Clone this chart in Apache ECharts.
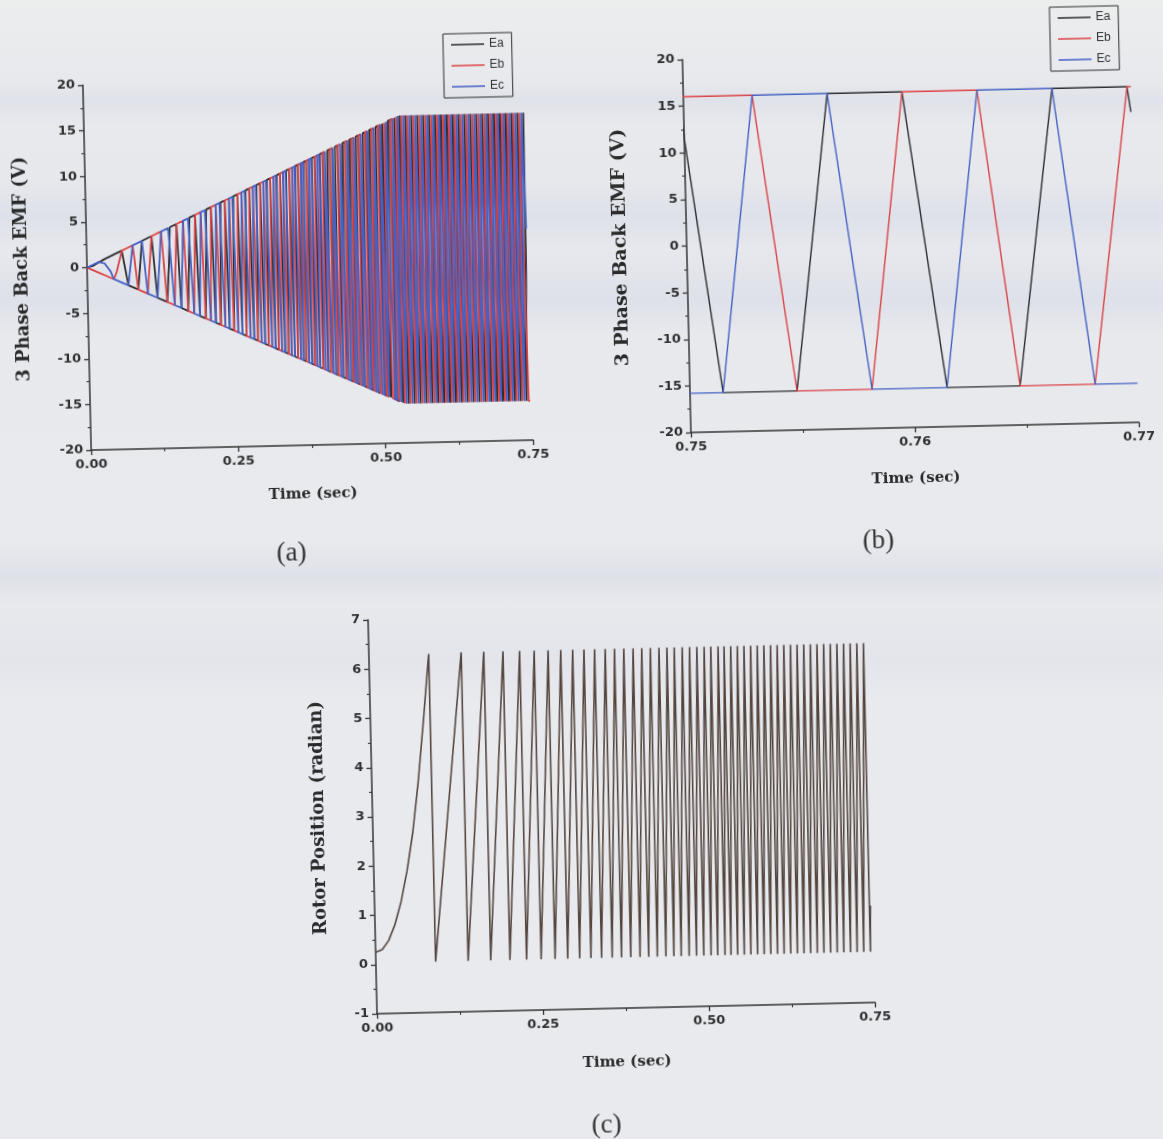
<!DOCTYPE html>
<html>
<head>
<meta charset="utf-8">
<script src="https://cdn.jsdelivr.net/npm/echarts@6/dist/echarts.min.js"></script>
<style>
  html, body { margin: 0; padding: 0; width: 1163px; height: 1139px; overflow: hidden; }
  body {
    background: linear-gradient(to bottom,
      #eceded 0px, #e8e9ed 80px, #dfe2e9 100px, #e8e9ed 125px,
      #e7e8ec 180px, #dde1e9 215px, #e7e8ed 250px, #dee1e9 300px, #e8e9ed 335px,
      #e9eaee 540px, #dee1e8 575px, #e8e9ed 605px, #e3e5eb 660px, #e9eaee 700px,
      #e9eaee 1139px);
  }
  #chart { width: 1163px; height: 1139px; transform: rotate(-1.3deg); transform-origin: 581.5px 569.5px; }
</style>
</head>
<body>
<div id="chart"></div>
<script>
// ---- Rotor electrical position (rad) ----
// start-up curve up to the first wrap
const startupTime = [0, 0.010, 0.020, 0.030, 0.040, 0.050, 0.060, 0.070, 0.080, 0.090];
const startupPos  = [0.25, 0.30, 0.48, 0.80, 1.26, 1.88, 2.66, 3.70, 4.95, 6.28];
// instants where the position wraps from 2π back to 0 (s)
const wrapTimes = [
  0.090, 0.139, 0.173, 0.202, 0.227, 0.249, 0.270, 0.289, 0.307, 0.324,
  0.340, 0.356, 0.370, 0.384, 0.398, 0.411, 0.424, 0.437, 0.449, 0.460,
  0.472, 0.483, 0.494, 0.505, 0.515, 0.526, 0.535, 0.545, 0.555, 0.565,
  0.575, 0.585, 0.595, 0.605, 0.615, 0.625, 0.635, 0.645, 0.655, 0.665,
  0.675, 0.685, 0.695, 0.705, 0.715, 0.725, 0.735, 0.745
];
const posLow = 0.03, posHigh = 6.30;
const simEnd = 0.7465;

// ---- Back-EMF amplitude envelope (V) ----
const emfEnvTime   = [0, 0.535, 0.7465];
const emfEnvTop    = [0, 15.9, 15.9];
const emfEnvBottom = [0, -15.7, -15.7];

// trapezoidal back-EMF of phase a versus electrical angle (deg), one period
const trapAngle = [-30, 30, 150, 210, 330];
const trapLevel = [-1, 1, 1, -1, -1];
const phaseNames = ['Ea', 'Eb', 'Ec'];
const phaseLag = [0, 120, 240];

// ---- Detail window 0.75 – 0.77 s ----
const zoomEaTime = [0.74976, 0.75148, 0.75478, 0.75642, 0.75976, 0.76148, 0.76474, 0.76646, 0.76981, 0.76996];
const zoomEaVolt = [16.0, -15.8, -15.8, 16.0, 16.0, -15.8, -15.8, 16.0, 16.0, 13.3];
const zoomEbTime = [0.7495, 0.75307, 0.75478, 0.75813, 0.75976, 0.76311, 0.76474, 0.76809, 0.76981, 0.76998];
const zoomEbVolt = [16.0, 16.0, -15.8, -15.8, 16.0, 16.0, -15.8, -15.8, 16.0, 16.0];
const zoomEcTime = [0.7495, 0.75148, 0.75307, 0.75642, 0.75813, 0.76148, 0.76311, 0.76646, 0.76809, 0.76998];
const zoomEcVolt = [-15.8, -15.8, 16.0, 16.0, -15.8, -15.8, 16.0, 16.0, -15.8, -15.8];

// ---------------------------------------------------------------
function lerpTable(xs, ys, x) {
  if (x <= xs[0]) return ys[0];
  for (let i = 0; i < xs.length - 1; i++) {
    if (x <= xs[i + 1]) {
      const f = (x - xs[i]) / (xs[i + 1] - xs[i]);
      return ys[i] + f * (ys[i + 1] - ys[i]);
    }
  }
  return ys[ys.length - 1];
}

// rotor position trace: start-up curve, then a ramp per electrical cycle
function rotorTrace() {
  const pts = startupTime.map((t, i) => [t, startupPos[i]]);
  wrapTimes.forEach((w, i) => {
    if (i > 0) pts.push([w, posHigh]);
    pts.push([w, posLow]);
  });
  const n = wrapTimes.length;
  const last = wrapTimes[n - 1], prev = wrapTimes[n - 2];
  pts.push([simEnd, posLow + (posHigh - posLow) * (simEnd - last) / (last - prev)]);
  return pts;
}

// piecewise-linear electrical angle (deg) over time
function anglePieces() {
  const R = 180 / Math.PI;
  const pieces = [];
  for (let i = 0; i < startupTime.length - 1; i++) {
    pieces.push([startupTime[i], startupPos[i] * R, startupTime[i + 1], startupPos[i + 1] * R]);
  }
  const n = wrapTimes.length;
  for (let i = 0; i < n - 1; i++) pieces.push([wrapTimes[i], 0, wrapTimes[i + 1], 360]);
  const last = wrapTimes[n - 1], prev = wrapTimes[n - 2];
  pieces.push([last, 0, simEnd, 360 * (simEnd - last) / (last - prev)]);
  return pieces;
}

function phaseLevel(deg, lag) {
  let a = (((deg - lag) % 360) + 360) % 360;
  if (a >= 330) a -= 360;
  return lerpTable(trapAngle, trapLevel, a);
}

function emfValue(t, level) {
  const top = lerpTable(emfEnvTime, emfEnvTop, t);
  const bot = lerpTable(emfEnvTime, emfEnvBottom, t);
  return level >= 0 ? level * top : -level * bot;
}

// corner points of one phase's back-EMF over the whole run
function phaseTrace(lag) {
  const pts = [];
  anglePieces().forEach(([ta, da, tb, db], idx) => {
    if (idx === 0) pts.push([ta, emfValue(ta, phaseLevel(da, lag))]);
    const corners = [];
    trapAngle.forEach(k => {
      const base = k + lag;
      let b = base + 360 * Math.ceil((da - base) / 360);
      while (b < db) {
        if (b > da) corners.push(b);
        b += 360;
      }
    });
    corners.sort((p, q) => p - q).forEach(b => {
      const t = ta + (b - da) / (db - da) * (tb - ta);
      pts.push([t, emfValue(t, phaseLevel(b, lag))]);
    });
    pts.push([tb, emfValue(tb, phaseLevel(db, lag))]);
  });
  return pts;
}

const pairs = (ts, vs) => ts.map((t, i) => [t, vs[i]]);

// ---------------------------------------------------------------
const axisColor = '#353535';
const tickFont = { color: '#303030', fontFamily: 'DejaVu Sans', fontWeight: 'bold', fontSize: 13 };
const titleFont = { color: '#2a2a2a', fontFamily: 'DejaVu Serif', fontWeight: 'bold' };

function xAxisCfg(gridIndex, min, max, interval, nameGap) {
  return {
    type: 'value', gridIndex, min, max, interval,
    name: 'Time (sec)', nameLocation: 'middle', nameGap, nameMoveOverlap: false,
    nameTextStyle: Object.assign({ fontSize: 15 }, titleFont),
    axisLine: { show: true, onZero: false, lineStyle: { color: axisColor, width: 1.5 } },
    axisTick: { show: true, inside: false, length: 5, lineStyle: { color: axisColor, width: 1.3 } },
    minorTick: { show: true, splitNumber: 2, length: 3, lineStyle: { color: axisColor, width: 1.1 } },
    splitLine: { show: false },
    axisLabel: Object.assign({ margin: 8, formatter: v => v.toFixed(2) }, tickFont)
  };
}

function yAxisCfg(gridIndex, min, max, interval, name, nameGap, nameSize) {
  return {
    type: 'value', gridIndex, min, max, interval,
    name, nameLocation: 'middle', nameGap, nameRotate: 90, nameMoveOverlap: false,
    nameTextStyle: Object.assign({ fontSize: nameSize }, titleFont),
    axisLine: { show: true, onZero: false, lineStyle: { color: axisColor, width: 1.5 } },
    axisTick: { show: true, inside: false, length: 5, lineStyle: { color: axisColor, width: 1.3 } },
    minorTick: { show: true, splitNumber: 2, length: 3, lineStyle: { color: axisColor, width: 1.1 } },
    splitLine: { show: false },
    axisLabel: Object.assign({ margin: 8 }, tickFont)
  };
}

const phaseColors = { Ea: '#2c2c31', Eb: '#dc4346', Ec: '#4561c4' };

function lineSeries(name, xi, data, color, width) {
  return {
    type: 'line', name, xAxisIndex: xi, yAxisIndex: xi, data,
    showSymbol: false, symbol: 'none', silent: true, clip: true,
    lineStyle: { color, width }, itemStyle: { color },
    emphasis: { disabled: true }
  };
}

function legendCfg(left, top) {
  return {
    data: phaseNames, orient: 'vertical', left, top,
    selectedMode: false, icon: 'rect', itemWidth: 33, itemHeight: 1.5, itemGap: 9,
    padding: [5, 8, 5, 8], borderColor: '#2f2f2f', borderWidth: 1,
    textStyle: { fontFamily: 'Liberation Sans', fontSize: 12, color: '#333' }
  };
}

function caption(text, x, y) {
  return {
    type: 'text', x, y, silent: true,
    style: { text, font: '27px "Liberation Serif"', fill: '#333',
             align: 'center', verticalAlign: 'middle',
             textAlign: 'center', textVerticalAlign: 'middle' }
  };
}

const chart = echarts.init(document.getElementById('chart'), null, { renderer: 'canvas' });

const series = [];
phaseNames.forEach((n, i) => series.push(lineSeries(n, 0, phaseTrace(phaseLag[i]), phaseColors[n], 1.8)));
series.push(lineSeries('Ea', 1, pairs(zoomEaTime, zoomEaVolt), phaseColors.Ea, 1.4));
series.push(lineSeries('Eb', 1, pairs(zoomEbTime, zoomEbVolt), phaseColors.Eb, 1.4));
series.push(lineSeries('Ec', 1, pairs(zoomEcTime, zoomEcVolt), phaseColors.Ec, 1.4));
series.push(lineSeries('Rotor Position', 2, rotorTrace(), '#54463f', 1.6));

chart.setOption({
  animation: false,
  backgroundColor: 'transparent',
  grid: [
    { left: 94, top: 74, width: 442, height: 365, outerBoundsMode: 'none' },
    { left: 694, top: 62, width: 448, height: 373, outerBoundsMode: 'none' },
    { left: 367, top: 615, width: 498, height: 394, outerBoundsMode: 'none' }
  ],
  xAxis: [
    xAxisCfg(0, 0, 0.75, 0.25, 42),
    xAxisCfg(1, 0.75, 0.77, 0.01, 44),
    xAxisCfg(2, 0, 0.75, 0.25, 47)
  ],
  yAxis: [
    yAxisCfg(0, -20, 20, 5, '3 Phase Back EMF (V)', 56, 18),
    yAxisCfg(1, -20, 20, 5, '3 Phase Back EMF (V)', 56, 19),
    yAxisCfg(2, -1, 7, 1, 'Rotor Position (radian)', 45, 18)
  ],
  legend: [legendCfg(455, 31), legendCfg(1062, 18)],
  series,
  graphic: [
    caption('(a)', 292, 547),
    caption('(b)', 879, 548),
    caption('(c)', 594, 1126)
  ]
});
</script>
</body>
</html>
